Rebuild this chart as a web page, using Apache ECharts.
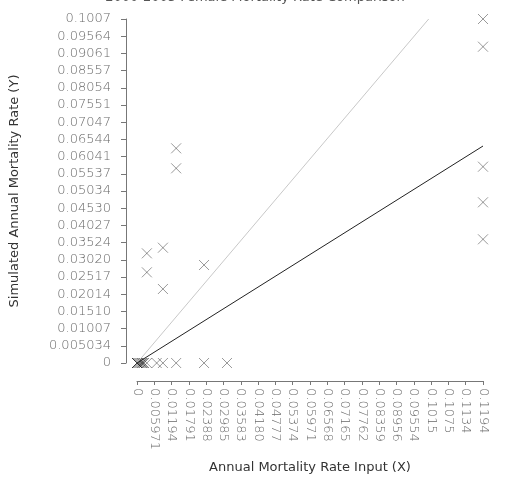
<!DOCTYPE html>
<html>
<head>
<meta charset="utf-8">
<script src="https://cdn.jsdelivr.net/npm/echarts@6/dist/echarts.min.js"></script>
<style>
  html, body { margin: 0; padding: 0; background: #fff; }
  #chart { width: 510px; height: 484px; }
</style>
</head>
<body>
<div id="chart"></div>
<script>
// Axis ticks (20 equal steps on each axis)
const xTickStep = 0.00597097;
const yTickStep = 0.00503381;
const xTickLabels = ['0', '0.005971', '0.01194', '0.01791', '0.02388', '0.02985', '0.03583',
  '0.04180', '0.04777', '0.05374', '0.05971', '0.06568', '0.07165', '0.07762', '0.08359',
  '0.08956', '0.09554', '0.1015', '0.1075', '0.1134', '0.1194'];
const yTickLabels = ['0', '0.005034', '0.01007', '0.01510', '0.02014', '0.02517', '0.03020',
  '0.03524', '0.04027', '0.04530', '0.05034', '0.05537', '0.06041', '0.06544', '0.07047',
  '0.07551', '0.08054', '0.08557', '0.09061', '0.09564', '0.1007'];

// Observed input rate (X) and simulated rate (Y) for each case
const inputRates = [
  0, 0, 0, 0.0004, 0.0008, 0.0012, 0.0016, 0.0018, 0.0022, 0.0024, 0.0034, 0.0034, 0.0034,
  0.0068, 0.00895, 0.00895, 0.00895,
  0.01351, 0.01351, 0.01351,
  0.02314, 0.02314, 0.03106,
  0.1194194, 0.1194194, 0.1194194, 0.1194194, 0.1194194
];
const simulatedRates = [
  0, 0, 0, 0, 0, 0, 0, 0, 0, 0, 0, 0.0321, 0.02654,
  0, 0, 0.03374, 0.02166,
  0, 0.06283, 0.05698,
  0, 0.02868, 0,
  0.1006762, 0.09257, 0.05745, 0.04703, 0.0362
];

// Reference line Y = X
const identityX = [0, 0.1006762];
const identityY = [0, 0.1006762];
// Fitted line through the origin
const fitX = [0, 0.1194194];
const fitY = [0, 0.0635];

const titleText = '2000-2005 Female Mortality Rate Comparison';
const xName = 'Annual Mortality Rate Input (X)';
const yName = 'Simulated Annual Mortality Rate (Y)';

const FONT = 'DejaVu Sans';
const pair = (xs, ys) => xs.map((x, i) => [x, ys[i]]);

const chart = echarts.init(document.getElementById('chart'), null, { renderer: 'canvas' });
chart.setOption({
  animation: false,
  backgroundColor: '#ffffff',
  title: {
    text: titleText,
    left: 'center',
    top: -14,
    textStyle: { fontFamily: FONT, fontSize: 13, fontWeight: 'normal', color: '#555' }
  },
  grid: { left: 132, right: 27, top: 19, bottom: 121, containLabel: false },
  xAxis: {
    type: 'value',
    min: 0,
    max: xTickStep * 20,
    interval: xTickStep,
    offset: 18,
    name: xName,
    nameLocation: 'middle',
    nameGap: 80,
    nameTextStyle: { fontFamily: FONT, fontSize: 13, color: '#333' },
    axisLine: { show: true, onZero: false, lineStyle: { color: '#777', width: 1 } },
    axisTick: { show: true, length: 4, lineStyle: { color: '#777' } },
    splitLine: { show: false },
    axisLabel: {
      rotate: -90,
      margin: 7,
      fontFamily: FONT,
      fontSize: 13,
      fontWeight: 200,
      color: '#6a6a6a',
      formatter: v => xTickLabels[Math.round(v / xTickStep)]
    }
  },
  yAxis: {
    type: 'value',
    min: 0,
    max: yTickStep * 20,
    interval: yTickStep,
    offset: 11,
    name: yName,
    nameLocation: 'middle',
    nameGap: 105,
    nameTextStyle: { fontFamily: FONT, fontSize: 13, color: '#333' },
    axisLine: { show: true, onZero: false, lineStyle: { color: '#777', width: 1 } },
    axisTick: { show: true, length: 5, lineStyle: { color: '#777' } },
    splitLine: { show: false },
    axisLabel: {
      margin: 15,
      fontFamily: FONT,
      fontSize: 13,
      fontWeight: 200,
      color: '#6a6a6a',
      formatter: v => yTickLabels[Math.round(v / yTickStep)]
    }
  },
  series: [
    {
      name: 'Y = X',
      type: 'line',
      data: pair(identityX, identityY),
      symbol: 'none',
      lineStyle: { color: '#c8c8c8', width: 1 },
      silent: true
    },
    {
      name: 'Fit',
      type: 'line',
      data: pair(fitX, fitY),
      symbol: 'none',
      lineStyle: { color: '#222', width: 1 },
      silent: true
    },
    {
      name: 'Cases',
      type: 'scatter',
      data: pair(inputRates, simulatedRates),
      symbol: 'path://M0,0L10,10M0,10L10,0',
      symbolSize: 10,
      itemStyle: { color: 'none', borderColor: 'rgba(0,0,0,0.5)', borderWidth: 1 },
      silent: true
    }
  ]
});
</script>
</body>
</html>
